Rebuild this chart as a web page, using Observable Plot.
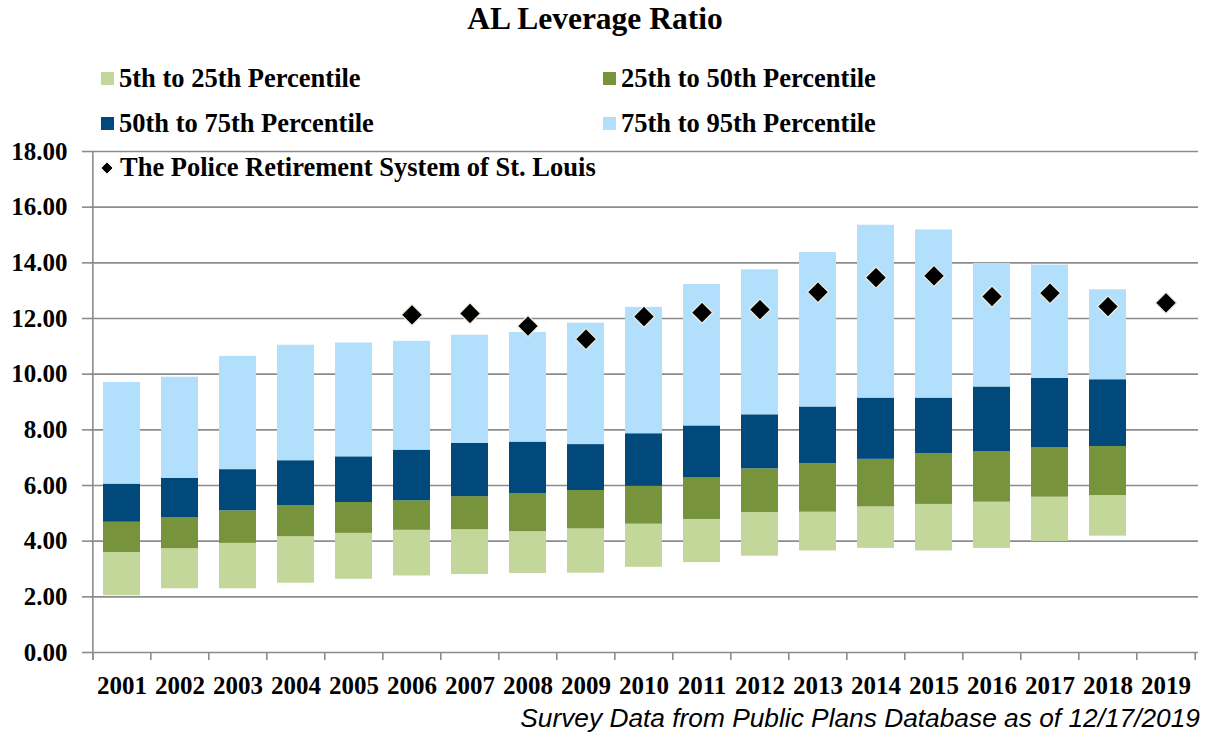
<!DOCTYPE html>
<html>
<head>
<meta charset="utf-8">
<script src="https://cdn.jsdelivr.net/npm/d3@7"></script>
<script src="https://cdn.jsdelivr.net/npm/@observablehq/plot@0.6"></script>
<style>
  html, body { margin: 0; padding: 0; background: #fff; }
  #wrap { position: relative; width: 1209px; height: 736px; overflow: hidden; font-family: "Liberation Serif", "Times New Roman", serif; background: #fff; }
  #title { position: absolute; left: 0; top: 0; width: 1190px; height: 38px; line-height: 38px; text-align: center; font-size: 31.5px; font-weight: bold; color: #000; }
  #legend { position: absolute; left: 0; top: 0; z-index: 2; }
  .leg { position: absolute; height: 30px; line-height: 30px; font-size: 26.5px; font-weight: bold; color: #000; white-space: nowrap; }
  .sw { position: absolute; width: 13px; height: 13px; }
  #chart { position: absolute; left: 0; top: 125px; z-index: 1; }
  #caption { position: absolute; right: 9px; top: 704px; line-height: 28px; font-family: "Liberation Sans", Arial, sans-serif; font-style: italic; font-size: 26.3px; color: #000; white-space: nowrap; }
  #diamondLeg { position: absolute; left: 100px; top: 152px; height: 30px; line-height: 30px; font-size: 26.5px; font-weight: bold; white-space: nowrap; z-index: 2; }
  #diamondLeg svg { vertical-align: middle; margin-right: 6px; position: relative; top: -2px; }
</style>
</head>
<body>
<div id="wrap">
  <div id="title"></div>
  <div id="chart"></div>
  <div id="legend"></div>
  <div id="diamondLeg"></div>
  <div id="caption"></div>
</div>
<script>
// ---- Data ----
const titleText = "AL Leverage Ratio";
const captionText = "Survey Data from Public Plans Database as of 12/17/2019";
const seriesNames = ["5th to 25th Percentile", "25th to 50th Percentile", "50th to 75th Percentile", "75th to 95th Percentile"];
const seriesColors = ["#c4d79b", "#77933c", "#00497a", "#b2dffc"];
const planName = "The Police Retirement System of St. Louis";

const years = ["2001","2002","2003","2004","2005","2006","2007","2008","2009","2010","2011","2012","2013","2014","2015","2016","2017","2018","2019"];
const barYears = ["2001","2002","2003","2004","2005","2006","2007","2008","2009","2010","2011","2012","2013","2014","2015","2016","2017","2018"];
const p5  = [2.04, 2.29, 2.29, 2.49, 2.63, 2.75, 2.80, 2.84, 2.85, 3.06, 3.23, 3.46, 3.65, 3.74, 3.65, 3.74, 3.99, 4.18];
const p25 = [3.59, 3.73, 3.92, 4.16, 4.28, 4.39, 4.41, 4.34, 4.44, 4.61, 4.78, 5.03, 5.04, 5.23, 5.32, 5.40, 5.58, 5.64];
const p50 = [4.68, 4.85, 5.09, 5.27, 5.39, 5.45, 5.60, 5.71, 5.82, 5.97, 6.27, 6.60, 6.78, 6.94, 7.14, 7.22, 7.35, 7.40];
const p75 = [6.05, 6.26, 6.57, 6.89, 7.03, 7.27, 7.51, 7.56, 7.47, 7.86, 8.14, 8.54, 8.82, 9.14, 9.14, 9.54, 9.85, 9.80];
const p95 = [9.70, 9.89, 10.64, 11.04, 11.12, 11.18, 11.40, 11.50, 11.83, 12.40, 13.22, 13.75, 14.37, 15.35, 15.18, 13.98, 13.92, 13.03];

const planYears  = ["2006","2007","2008","2009","2010","2011","2012","2013","2014","2015","2016","2017","2018","2019"];
const planValues = [12.13, 12.18, 11.73, 11.26, 12.07, 12.21, 12.32, 12.95, 13.47, 13.53, 12.79, 12.91, 12.43, 12.56];

const yTicks = [0, 2, 4, 6, 8, 10, 12, 14, 16, 18];
const yTickLabels = ["0.00","2.00","4.00","6.00","8.00","10.00","12.00","14.00","16.00","18.00"];

// ---- Build tables ----
const bounds = [p5, p25, p50, p75, p95];
const segs = [];
barYears.forEach((yr, i) => {
  for (let s = 0; s < 4; s++) {
    segs.push({year: yr, series: seriesNames[s], lo: bounds[s][i], hi: bounds[s + 1][i]});
  }
});
const plan = planYears.map((yr, i) => ({year: yr, value: planValues[i]}));

// ---- Layout ----
const W = 1209, H = 580, ML = 90, MR = 11, MT = 26, MB = 53;
const step = (W - ML - MR) / years.length;
const gridColor = "#8c8c8c";

document.getElementById("title").textContent = titleText;
document.getElementById("caption").textContent = captionText;

// Legend
const legendPos = [
  {x: 101, y: 63}, {x: 603, y: 63}, {x: 101, y: 108}, {x: 603, y: 108}
];
const legend = document.getElementById("legend");
seriesNames.forEach((name, i) => {
  const p = legendPos[i];
  const sw = document.createElement("div");
  sw.className = "sw";
  sw.style.left = p.x + "px";
  sw.style.top = (p.y + 9) + "px";
  sw.style.background = seriesColors[i];
  legend.appendChild(sw);
  const t = document.createElement("div");
  t.className = "leg";
  t.style.left = (p.x + 18) + "px";
  t.style.top = p.y + "px";
  t.textContent = name;
  legend.appendChild(t);
});
document.getElementById("diamondLeg").innerHTML =
  '<svg width="14" height="14" viewBox="-7 -7 14 14"><path d="M0,-6L6,0L0,6L-6,0Z" fill="#000" stroke="#f0ede0" stroke-width="1"/></svg>';
document.getElementById("diamondLeg").appendChild(document.createTextNode(planName));

const chart = Plot.plot({
  width: W,
  height: H,
  marginLeft: ML,
  marginRight: MR,
  marginTop: MT,
  marginBottom: MB,
  style: {fontFamily: "Liberation Serif, Times New Roman, serif", fontSize: "25px", fontWeight: "bold", color: "#000", background: "transparent"},
  x: {type: "band", domain: years, paddingInner: 0.36, paddingOuter: 0.18, axis: null, label: null},
  y: {domain: [0, 18], axis: null, label: null},
  color: {domain: seriesNames, range: seriesColors},
  marks: [
    Plot.gridY({ticks: yTicks.filter(d => d > 0), stroke: gridColor, strokeOpacity: 1, strokeWidth: 1.6}),
    Plot.barY(segs, {x: "year", y1: "lo", y2: "hi", fill: "series"}),
    Plot.ruleY([0], {stroke: gridColor, strokeWidth: 1.6}),
    // left axis line
    Plot.ruleX([years[0]], {y1: 18, y2: 0, dx: -step / 2, insetBottom: -8, stroke: gridColor, strokeWidth: 1.6}),
    // boundary tick marks on x axis
    Plot.ruleX(years, {y1: 0, y2: 0, dx: -step / 2, insetBottom: -8, stroke: gridColor, strokeWidth: 1.6}),
    Plot.ruleX([years[years.length - 1]], {y1: 0, y2: 0, dx: step / 2, insetBottom: -8, stroke: gridColor, strokeWidth: 1.6}),
    Plot.axisY({ticks: yTicks, tickSize: 8, text: null, label: null, stroke: gridColor, strokeWidth: 1.6}),
    Plot.axisY({ticks: yTicks, tickSize: 0, tickPadding: 23, label: null, tickFormat: d => yTickLabels[yTicks.indexOf(d)], fontSize: 25, fontWeight: "bold", fill: "#000"}),
    Plot.axisX({tickSize: 0, tickPadding: 24, label: null, fontSize: 25, fontWeight: "bold", fill: "#000"}),
    Plot.dot(plan, {x: "year", y: "value", symbol: "diamond2", r: 9.5, fill: "#000", stroke: "#f0ede0", strokeWidth: 1.2})
  ]
});
document.getElementById("chart").appendChild(chart);
</script>
</body>
</html>
